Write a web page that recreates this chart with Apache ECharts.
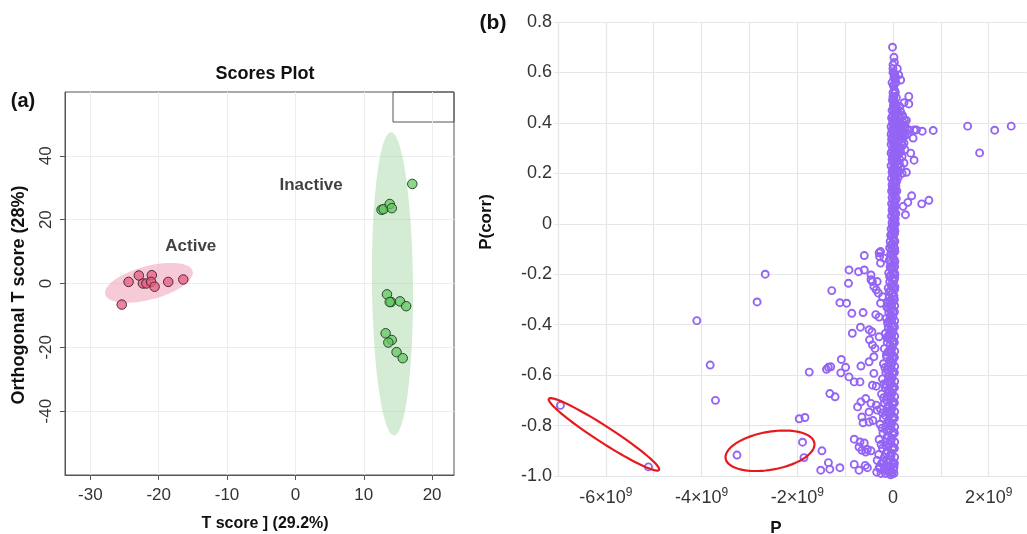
<!DOCTYPE html>
<html>
<head>
<meta charset="utf-8">
<script src="https://cdn.jsdelivr.net/npm/echarts@6/dist/echarts.min.js"></script>
<style>
    html, body { margin: 0; padding: 0; background: #fff; }
    #chart { width: 1027px; height: 534px; }
</style>
</head>
<body>
<div id="chart"></div>
<script>
// ---- (a) scores plot ----
const activeT = [-24.4, -22.9, -21.0, -22.3, -21.8, -21.1, -20.6, -18.6, -16.4, -25.4]
const activeO = [0.5, 2.5, 2.6, 0.0, 0.0, 0.5, -1.0, 0.5, 1.25, -6.6]
const inactiveT = [12.6, 12.9, 13.8, 14.1, 17.1, 13.4, 14.0, 13.8, 15.3, 16.2, 13.2, 14.1, 13.6, 14.8, 15.7]
const inactiveO = [23.1, 23.3, 24.9, 23.6, 31.2, -3.4, -5.8, -5.8, -5.6, -7.1, -15.6, -17.7, -18.5, -21.5, -23.4]
const tTicks = [-30, -20, -10, 0, 10, 20]
const oTicks = [-40, -20, 0, 20, 40]
// confidence ellipses: centre x, centre y, semi-axis 1 (dx, dy), semi-axis 2 (dx, dy)
const ellipseActive = [-21.42, 0.22, 6.39, 3.66, 0.64, -5.06]
const ellipseInactive = [14.2, -0.1, -0.22, 47.5, 3.0, 0.03]

// ---- (b) S-plot, P in units of 1e9 ----
const pTicks = [-6, -4, -2, 0, 2]
const corrTicks = [-1.0, -0.8, -0.6, -0.4, -0.2, 0, 0.2, 0.4, 0.6, 0.8]
const farPoints = [
    [-2.67, -0.20], [-2.84, -0.31], [-4.10, -0.384], [-3.82, -0.56], [-3.71, -0.70],
    [-6.95, -0.72], [-5.11, -0.964], [-3.26, -0.917]
]
const positivePoints = [
    [-0.01, 0.70], [0.03, 0.64], [0.0, 0.615], [0.09, 0.615], [0.04, 0.59], [0.12, 0.59], [0.16, 0.57],
    [0.0, 0.60], [0.02, 0.58], [0.06, 0.56], [0.01, 0.55], [0.03, 0.53], [0.0, 0.52], [0.02, 0.505],
    [-0.01, 0.49], [0.04, 0.48], [0.01, 0.47], [0.05, 0.52], [0.07, 0.50], [0.06, 0.47], [-0.02, 0.56],
    [0.05, 0.58], [0.0, 0.63], [0.02, 0.66],
    [0.33, 0.505], [0.23, 0.48], [0.33, 0.475], [0.14, 0.465], [0.09, 0.455], [0.19, 0.425], [0.28, 0.41],
    [0.16, 0.39], [0.26, 0.385], [0.33, 0.372], [0.44, 0.372], [0.49, 0.372], [0.61, 0.367], [0.84, 0.37],
    [1.56, 0.387], [2.125, 0.371], [2.47, 0.387], [1.81, 0.281], [0.30, 0.355], [0.42, 0.34], [0.23, 0.32],
    [0.25, 0.294], [0.37, 0.28], [0.44, 0.252], [0.19, 0.267], [0.23, 0.241], [0.28, 0.204], [0.19, 0.20],
    [0.39, 0.111], [0.31, 0.085], [0.21, 0.069], [0.6, 0.079], [0.75, 0.093], [0.26, 0.036],
    [0.07, 0.44], [0.11, 0.43], [0.15, 0.42], [0.08, 0.41], [0.13, 0.40], [0.18, 0.395], [0.22, 0.39],
    [0.09, 0.385], [0.14, 0.375], [0.19, 0.37], [0.07, 0.365], [0.11, 0.355], [0.17, 0.35], [0.21, 0.345],
    [0.08, 0.34], [0.13, 0.33], [0.18, 0.325], [0.06, 0.315], [0.1, 0.305], [0.15, 0.30], [0.07, 0.29],
    [0.12, 0.28], [0.08, 0.265], [0.14, 0.255], [0.06, 0.245], [0.1, 0.23], [0.07, 0.215], [0.12, 0.21],
    [0.05, 0.19], [0.08, 0.17], [0.06, 0.15], [0.05, 0.125], [0.07, 0.10], [0.05, 0.07], [0.06, 0.04],
    [0.05, 0.0], [0.04, -0.03], [0.04, -0.07], [0.04, -0.11], [0.04, -0.15], [0.04, -0.2], [0.04, -0.25],
    [0.16, 0.445], [0.2, 0.43], [0.24, 0.41], [0.1, 0.395], [0.2, 0.405], [0.25, 0.375], [0.16, 0.36],
    [0.23, 0.36], [0.12, 0.345], [0.25, 0.35], [0.2, 0.31], [0.1, 0.32], [0.16, 0.285], [0.1, 0.275],
    [0.13, 0.24], [0.16, 0.225], [0.09, 0.2], [0.11, 0.185], [0.08, 0.13]
]
const columnPoints = [
    [0.01, 0.46], [-0.02, 0.45], [0.03, 0.44], [0.0, 0.43], [-0.03, 0.42], [0.02, 0.41], [0.05, 0.405],
    [-0.01, 0.40], [0.03, 0.39], [-0.04, 0.385], [0.01, 0.38], [0.06, 0.375], [-0.02, 0.37], [0.02, 0.36],
    [-0.04, 0.355], [0.04, 0.35], [0.0, 0.34], [-0.03, 0.335], [0.03, 0.33], [0.0, 0.32], [-0.04, 0.315],
    [0.05, 0.31], [0.01, 0.30], [-0.02, 0.29], [0.03, 0.285], [-0.04, 0.28], [0.01, 0.27], [0.04, 0.26],
    [-0.02, 0.255], [0.0, 0.245], [0.03, 0.235], [-0.04, 0.23], [0.01, 0.22], [0.04, 0.21], [-0.02, 0.205],
    [0.0, 0.195], [0.03, 0.185], [-0.03, 0.18], [0.01, 0.17], [0.04, 0.16], [-0.02, 0.155], [0.0, 0.145],
    [0.03, 0.135], [-0.03, 0.13], [0.01, 0.12], [0.04, 0.11], [-0.02, 0.105], [0.0, 0.095], [0.02, 0.085],
    [-0.03, 0.08], [0.01, 0.07], [0.03, 0.06], [-0.02, 0.055], [0.0, 0.045], [0.02, 0.035], [-0.03, 0.03],
    [0.01, 0.02], [0.03, 0.01], [-0.02, 0.005], [0.0, -0.005], [0.02, -0.015], [-0.04, -0.02], [0.0, -0.03],
    [0.03, -0.04], [-0.05, -0.045], [-0.01, -0.055], [0.02, -0.065], [-0.06, -0.07], [-0.02, -0.08],
    [0.02, -0.09], [-0.07, -0.095], [-0.03, -0.105], [0.01, -0.115], [-0.05, -0.12], [-0.01, -0.13],
    [0.02, -0.14], [-0.08, -0.145], [-0.04, -0.155], [0.0, -0.165], [-0.06, -0.17], [-0.02, -0.18],
    [0.02, -0.19], [-0.09, -0.195], [-0.05, -0.205], [-0.01, -0.215], [0.02, -0.225], [-0.07, -0.23],
    [-0.03, -0.24], [0.01, -0.25], [-0.1, -0.255], [-0.05, -0.265], [-0.01, -0.275], [0.02, -0.285],
    [-0.08, -0.29], [-0.04, -0.30], [0.0, -0.31], [-0.12, -0.315], [-0.06, -0.325], [-0.02, -0.335],
    [0.02, -0.345], [-0.09, -0.35], [-0.04, -0.36], [0.0, -0.37], [-0.14, -0.375], [-0.07, -0.385],
    [-0.02, -0.395], [0.02, -0.405], [-0.1, -0.41], [-0.05, -0.42], [0.0, -0.43], [-0.16, -0.435],
    [-0.08, -0.445], [-0.03, -0.455], [0.01, -0.465], [-0.12, -0.47], [-0.06, -0.48], [-0.01, -0.49],
    [-0.18, -0.495], [-0.09, -0.505], [-0.03, -0.515], [0.01, -0.525], [-0.13, -0.53], [-0.06, -0.54],
    [-0.01, -0.55], [-0.2, -0.555], [-0.1, -0.565], [-0.04, -0.575], [0.01, -0.585], [-0.15, -0.59],
    [-0.07, -0.60], [-0.02, -0.61], [-0.22, -0.615], [-0.11, -0.625], [-0.04, -0.635], [0.01, -0.645],
    [-0.16, -0.65], [-0.08, -0.66], [-0.02, -0.67], [-0.24, -0.675], [-0.12, -0.685], [-0.05, -0.695],
    [0.01, -0.705], [-0.18, -0.71], [-0.09, -0.72], [-0.02, -0.73], [-0.26, -0.735], [-0.13, -0.745],
    [-0.05, -0.755], [0.01, -0.765], [-0.2, -0.77], [-0.1, -0.78], [-0.03, -0.79], [-0.27, -0.795],
    [-0.15, -0.805], [-0.06, -0.815], [0.01, -0.825], [-0.21, -0.83], [-0.11, -0.84], [-0.03, -0.85],
    [-0.29, -0.855], [-0.16, -0.865], [-0.07, -0.875], [0.0, -0.885], [-0.22, -0.89], [-0.12, -0.90],
    [-0.04, -0.91], [-0.3, -0.915], [-0.18, -0.925], [-0.08, -0.935], [0.0, -0.945], [-0.24, -0.95],
    [-0.13, -0.96], [-0.05, -0.97], [-0.19, -0.975], [-0.09, -0.985], [-0.02, -0.99], [0.01, -0.975],
    [-0.28, -0.97],
    [0.03, -0.30], [-0.07, -0.31], [-0.13, -0.33], [0.03, -0.35], [-0.06, -0.37], [-0.11, -0.39],
    [0.03, -0.41], [-0.07, -0.43], [-0.13, -0.45], [0.03, -0.47], [-0.05, -0.50], [-0.14, -0.52],
    [0.03, -0.53], [-0.07, -0.55], [-0.12, -0.58], [0.03, -0.59], [-0.06, -0.62], [-0.15, -0.64],
    [0.03, -0.65], [-0.07, -0.67], [-0.14, -0.70], [0.03, -0.71], [-0.06, -0.74], [-0.16, -0.76],
    [0.03, -0.77], [-0.07, -0.79], [-0.13, -0.82], [0.03, -0.83], [-0.06, -0.86], [-0.15, -0.88],
    [0.03, -0.89], [-0.07, -0.92], [-0.14, -0.94], [0.03, -0.95], [-0.06, -0.96], [-0.12, -0.98],
    [-0.03, -0.985], [0.02, -0.965]
]
const columnFillPoints = [
    [0.02, 0.595], [0.045, 0.575], [0.015, 0.545], [0.04, 0.525], [0.0, 0.505], [0.03, 0.485], [0.045, 0.465],
    [0.015, 0.452], [0.045, 0.435], [-0.01, 0.425], [0.025, 0.415], [0.045, 0.395], [0.015, 0.365],
    [0.045, 0.345], [-0.01, 0.345], [0.02, 0.325], [0.045, 0.295], [0.015, 0.275], [-0.01, 0.265],
    [0.045, 0.24], [0.015, 0.225], [-0.01, 0.21], [0.03, 0.2], [0.045, 0.175], [0.015, 0.16], [-0.01, 0.14],
    [0.03, 0.125], [0.045, 0.09], [0.015, 0.075], [-0.01, 0.06], [0.035, 0.045], [0.045, 0.02], [0.015, 0.0],
    [-0.015, -0.01], [0.035, -0.025], [-0.02, -0.045], [0.015, -0.06], [-0.04, -0.085], [0.035, -0.1],
    [-0.01, -0.12], [0.015, -0.155], [-0.04, -0.175], [0.035, -0.17], [-0.07, -0.21], [0.0, -0.2],
    [0.035, -0.215], [-0.03, -0.25], [0.035, -0.26], [-0.08, -0.27], [0.0, -0.29], [-0.03, -0.32],
    [0.035, -0.325], [-0.1, -0.335], [0.0, -0.35], [-0.03, -0.38], [0.035, -0.385], [-0.11, -0.395],
    [-0.01, -0.41], [-0.03, -0.44], [0.035, -0.445], [-0.1, -0.455], [-0.01, -0.47], [-0.04, -0.5],
    [0.035, -0.505], [-0.11, -0.51], [-0.01, -0.535], [-0.04, -0.56], [0.035, -0.565], [-0.17, -0.57],
    [-0.01, -0.595], [-0.1, -0.605], [-0.04, -0.62], [0.035, -0.625], [-0.19, -0.635], [-0.01, -0.655],
    [-0.1, -0.665], [-0.04, -0.68], [0.035, -0.685], [-0.2, -0.69], [-0.01, -0.715], [-0.11, -0.73],
    [-0.04, -0.74], [0.035, -0.745], [-0.22, -0.75], [-0.01, -0.775], [-0.12, -0.79], [-0.04, -0.8],
    [0.035, -0.805], [-0.23, -0.81], [-0.01, -0.835], [-0.13, -0.85], [-0.04, -0.86], [0.035, -0.865],
    [-0.25, -0.875], [-0.01, -0.895], [-0.14, -0.91], [-0.04, -0.92], [0.035, -0.925], [-0.2, -0.94],
    [-0.01, -0.955], [-0.1, -0.945], [-0.16, -0.99], [-0.05, -0.995], [0.02, -0.99], [-0.25, -0.99],
    [-0.34, -0.985]
]
const negativePoints = [
    [-0.60, -0.126], [-0.92, -0.183], [-0.72, -0.19], [-0.60, -0.183], [-0.93, -0.236], [-1.28, -0.265],
    [-0.46, -0.203], [-0.43, -0.229], [-0.35, -0.262], [-0.29, -0.115], [-0.26, -0.156], [-1.11, -0.313],
    [-0.97, -0.315], [-0.86, -0.355], [-0.625, -0.352], [-0.68, -0.41], [-0.85, -0.434], [-0.5, -0.42],
    [-0.44, -0.428], [-0.49, -0.46], [-0.43, -0.48], [-0.375, -0.494], [-0.29, -0.448], [-1.08, -0.538],
    [-1.35, -0.569], [-1.30, -0.567], [-1.39, -0.577], [-1.75, -0.588], [-0.99, -0.569], [-1.09, -0.591],
    [-0.67, -0.564], [-0.92, -0.607], [-0.81, -0.627], [-0.69, -0.627], [-0.5, -0.547], [-0.40, -0.527],
    [-0.40, -0.593], [-0.43, -0.64], [-0.35, -0.644], [-1.32, -0.673], [-1.21, -0.686], [-0.57, -0.693],
    [-0.67, -0.706], [-0.74, -0.726], [-0.46, -0.712], [-0.35, -0.719], [-0.5, -0.746], [-0.33, -0.739],
    [-0.65, -0.766], [-0.625, -0.789], [-0.5, -0.786], [-0.42, -0.78], [-1.96, -0.773], [-1.84, -0.768],
    [-1.89, -0.866], [-1.86, -0.927], [-0.81, -0.854], [-0.69, -0.865], [-0.60, -0.869], [-0.71, -0.885],
    [-0.65, -0.898], [-0.535, -0.895], [-1.485, -0.90], [-0.57, -0.905], [-0.46, -0.90], [-1.35, -0.947],
    [-1.32, -0.973], [-1.51, -0.977], [-1.11, -0.967], [-0.81, -0.954], [-0.71, -0.977], [-0.58, -0.958],
    [-0.535, -0.967], [-0.33, -0.938], [-0.29, -0.967], [-0.26, -0.11], [-0.28, -0.13], [-0.19, -0.136],
    [-0.46, -0.222], [-0.40, -0.249], [-0.33, -0.229], [-0.305, -0.275], [-0.22, -0.289], [-0.26, -0.315],
    [-0.36, -0.36], [-0.29, -0.37]
]
// red highlight ellipses (same form as above)
const ellipseLeft = [-6.04, -0.835, 1.15, -0.141, -0.09, -0.027]
const ellipseMid = [-2.57, -0.90, 0.927, 0.031, 0.069, -0.074]

const font = 'Liberation Sans, Arial, sans-serif'
const purple = '#9464f4'

function pairs(xs, ys) {
    return xs.map((x, i) => [x, ys[i]])
}

function ellipseItem(fill, stroke, lineWidth) {
    return function (params, api) {
        const cx = api.value(0), cy = api.value(1)
        const ax = api.value(2), ay = api.value(3), bx = api.value(4), by = api.value(5)
        const pts = []
        for (let i = 0; i < 90; i++) {
            const t = i / 90 * Math.PI * 2
            pts.push(api.coord([cx + ax * Math.cos(t) + bx * Math.sin(t), cy + ay * Math.cos(t) + by * Math.sin(t)]))
        }
        return { type: 'polygon', shape: { points: pts }, style: { fill: fill, stroke: stroke, lineWidth: lineWidth } }
    }
}

const chart = echarts.init(document.getElementById('chart'))
chart.setOption({
    animation: false,
    textStyle: { fontFamily: font },
    grid: [
        { left: 65, top: 92, width: 389, height: 383, show: true, borderColor: '#555', borderWidth: 1 },
        { left: 558, top: 22, width: 469, height: 454 }
    ],
    xAxis: [{
        gridIndex: 0, type: 'value', min: -33.7, max: 23.2,
        axisLine: { show: true, onZero: false, lineStyle: { color: '#555' } },
        axisTick: { show: true, length: 5, customValues: tTicks, lineStyle: { color: '#555' } },
        axisLabel: { customValues: tTicks, fontSize: 17, color: '#333', margin: 12 },
        splitLine: { show: true, lineStyle: { color: '#ededed' } }
    }, {
        gridIndex: 1, type: 'value', min: -7, max: 2.8, interval: 1,
        axisLine: { show: true, onZero: false, lineStyle: { color: '#e6e6e6', width: 1 } },
        axisTick: { show: false },
        axisLabel: {
            customValues: pTicks, margin: 11,
            formatter: v => v === 0 ? '{m|0}' : '{m|' + v + '×10}{s|9}',
            rich: {
                m: { fontSize: 18, color: '#333', fontFamily: font, lineHeight: 22 },
                s: { fontSize: 12, color: '#333', fontFamily: font, lineHeight: 12, verticalAlign: 'top' }
            }
        },
        splitLine: { show: true, lineStyle: { color: '#e6e6e6', width: 1.2 } }
    }],
    yAxis: [{
        gridIndex: 0, type: 'value', min: -60, max: 60, interval: 20,
        axisLine: { show: true, onZero: false, lineStyle: { color: '#555' } },
        axisTick: { show: true, length: 5, customValues: oTicks, lineStyle: { color: '#555' } },
        axisLabel: { customValues: oTicks, rotate: 90, fontSize: 17, color: '#333', margin: 10 },
        splitLine: { show: true, lineStyle: { color: '#ededed' } }
    }, {
        gridIndex: 1, type: 'value', min: -1, max: 0.8, interval: 0.2,
        axisLine: { show: true, onZero: false, lineStyle: { color: '#e6e6e6', width: 1.2 } },
        axisTick: { show: true, length: 4, lineStyle: { color: '#e6e6e6' } },
        axisLabel: {
            customValues: corrTicks, fontSize: 18, color: '#333', margin: 6,
            formatter: v => Math.abs(v) < 1e-9 ? '0' : v.toFixed(1)
        },
        splitLine: { show: true, lineStyle: { color: '#e6e6e6', width: 1.2 } }
    }],
    graphic: [
        { type: 'text', style: { text: 'Scores Plot', x: 265, y: 74, align: 'center', verticalAlign: 'middle', font: 'bold 18px ' + font, fill: '#111' } },
        { type: 'text', style: { text: '(a)', x: 23, y: 101, align: 'center', verticalAlign: 'middle', font: 'bold 20px ' + font, fill: '#111' } },
        { type: 'text', style: { text: '(b)', x: 493, y: 23, align: 'center', verticalAlign: 'middle', font: 'bold 21px ' + font, fill: '#111' } },
        { type: 'text', style: { text: 'T score ] (29.2%)', x: 265, y: 524, align: 'center', verticalAlign: 'middle', font: 'bold 16px ' + font, fill: '#111' } },
        { type: 'text', x: 19, y: 295, rotation: Math.PI / 2, style: { text: 'Orthogonal T score (28%)', x: 0, y: 0, align: 'center', verticalAlign: 'middle', font: 'bold 18px ' + font, fill: '#111' } },
        { type: 'text', x: 486, y: 222, rotation: Math.PI / 2, style: { text: 'P(corr)', x: 0, y: 0, align: 'center', verticalAlign: 'middle', font: 'bold 17px ' + font, fill: '#111' } },
        { type: 'text', style: { text: 'P', x: 776, y: 528, align: 'center', verticalAlign: 'middle', font: 'bold 17px ' + font, fill: '#111' } },
        { type: 'rect', shape: { x: 393, y: 92, width: 61, height: 30 }, style: { fill: 'none', stroke: '#555', lineWidth: 1 } }
    ],
    series: [{
        type: 'custom', xAxisIndex: 0, yAxisIndex: 0, z: 1,
        renderItem: ellipseItem('rgba(240,150,178,0.5)', null, 0),
        data: [ellipseActive]
    }, {
        type: 'custom', xAxisIndex: 0, yAxisIndex: 0, z: 1,
        renderItem: ellipseItem('rgba(150,210,150,0.42)', null, 0),
        data: [ellipseInactive]
    }, {
        name: 'Active', type: 'scatter', xAxisIndex: 0, yAxisIndex: 0, z: 3,
        symbolSize: 9.5,
        itemStyle: { color: 'rgba(232,92,128,0.75)', borderColor: '#4a2a35', borderWidth: 1, opacity: 1 },
        data: pairs(activeT, activeO)
    }, {
        name: 'Inactive', type: 'scatter', xAxisIndex: 0, yAxisIndex: 0, z: 3,
        symbolSize: 9.5,
        itemStyle: { color: 'rgba(95,200,95,0.72)', borderColor: '#2a452a', borderWidth: 1, opacity: 1 },
        data: pairs(inactiveT, inactiveO)
    }, {
        type: 'scatter', xAxisIndex: 0, yAxisIndex: 0, z: 4, symbolSize: 0, silent: true,
        label: { show: true, position: 'inside', formatter: '{b}', fontSize: 17, fontWeight: 'bold', color: '#111' },
        data: [{ name: 'Active', value: [-15.3, 11.7] }, { name: 'Inactive', value: [2.3, 30.9] }]
    }, {
        type: 'scatter', xAxisIndex: 1, yAxisIndex: 1, z: 3,
        symbol: 'circle', symbolSize: 7,
        itemStyle: { color: 'transparent', borderColor: purple, borderWidth: 1.9, opacity: 1 },
        data: farPoints.concat(negativePoints, positivePoints, columnPoints, columnFillPoints)
    }, {
        type: 'custom', xAxisIndex: 1, yAxisIndex: 1, z: 5,
        renderItem: ellipseItem('none', '#e8191c', 2.2),
        data: [ellipseLeft, ellipseMid]
    }]
})
</script>
</body>
</html>
